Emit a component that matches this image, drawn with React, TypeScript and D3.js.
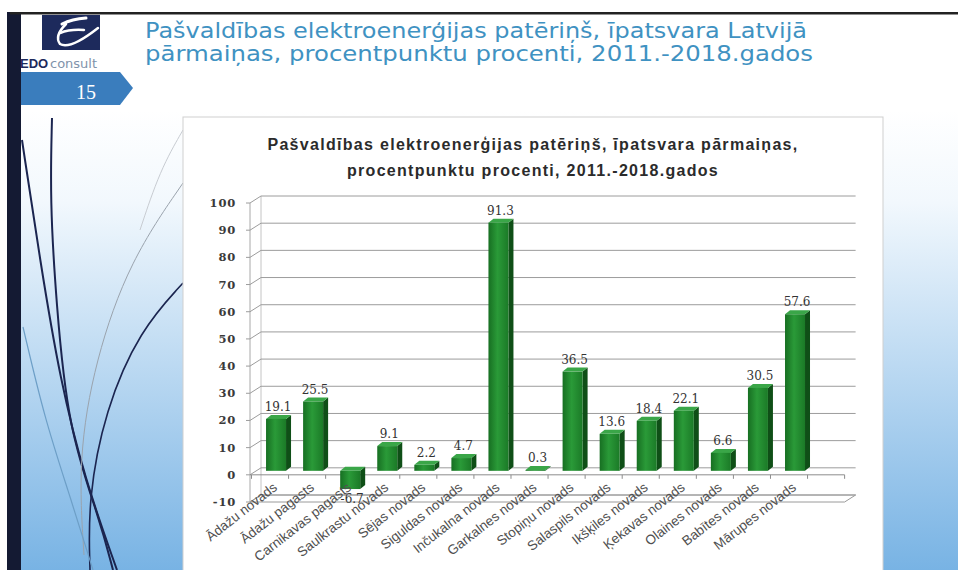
import React from "react";
import * as d3 from "d3";

const categories = [
  "Ādažu novads",
  "Ādažu pagasts",
  "Carnikavas pagasts",
  "Saulkrastu novads",
  "Sējas novads",
  "Siguldas novads",
  "Inčukalna novads",
  "Garkalnes novads",
  "Stopiņu novads",
  "Salaspils novads",
  "Ikšķiles novads",
  "Ķekavas novads",
  "Olaines novads",
  "Babītes novads",
  "Mārupes novads",
];
const values = [19.1, 25.5, -6.7, 9.1, 2.2, 4.7, 91.3, 0.3, 36.5, 13.6, 18.4, 22.1, 6.6, 30.5, 57.6];
const yTicks = [-10, 0, 10, 20, 30, 40, 50, 60, 70, 80, 90, 100];

const slideTitle1 = "Pašvaldības elektroenerģijas patēriņš, īpatsvara Latvijā";
const slideTitle2 = "pārmaiņas, procentpunktu procenti, 2011.-2018.gados";
const chartTitle1 = "Pašvaldības elektroenerģijas patēriņš, īpatsvara pārmaiņas,";
const chartTitle2 = "procentpunktu procenti, 2011.-2018.gados";
const slideNumber = "15";

export default function App() {
  const W = 958;
  const H = 570;
  const step = 37.07;
  const x0 = 251.5;
  const x = d3
    .scaleBand<string>()
    .domain(categories)
    .range([x0, x0 + categories.length * step])
    .padding(0);
  const y = d3.scaleLinear().domain([-10, 100]).range([502, 203]);

  // 3D offsets
  const backDx = 11, backDy = -7; // wall depth
  const barDx = 6, barDy = -4; // bar placement (mid-depth)
  const sideDx = 5, sideDy = -4; // bar depth
  const barW = 20;

  const floorEnd = x0 + (categories.length + 1) * step;
  const leftX = 250;
  const yMin = y(-10);
  const yMax = y(100);

  const curve = d3.line<[number, number]>().curve(d3.curveBasis);

  return (
    <svg
      width={W}
      height={H}
      style={{ position: "absolute", left: 0, top: 0, background: "#fff" }}
      fontFamily="Liberation Sans, Arial, sans-serif"
    >
      <defs>
        <linearGradient id="bg" x1="0" y1="0" x2="0" y2="1">
          <stop offset="0" stopColor="#ffffff" />
          <stop offset="0.2" stopColor="#f2f8fd" />
          <stop offset="1" stopColor="#78b3e4" />
        </linearGradient>
        <linearGradient id="barFront" x1="0" y1="0" x2="1" y2="0">
          <stop offset="0" stopColor="#176f22" />
          <stop offset="0.45" stopColor="#2a9a38" />
          <stop offset="1" stopColor="#1b7a27" />
        </linearGradient>
      </defs>

      {/* slide background */}
      <rect x={0} y={0} width={W} height={H} fill="#fff" />
      <rect x={20} y={110} width={W - 20} height={H - 110} fill="url(#bg)" />

      {/* decorative curves */}
      <g fill="none">
        <path d={curve([[22, 140], [40, 260], [60, 380], [85, 480], [117, 570]]) || ""} stroke="#1b2550" strokeWidth={2} />
        <path d={curve([[52, 118], [50, 200], [56, 300], [68, 430], [100, 520], [113, 570]]) || ""} stroke="#1b2550" strokeWidth={2} />
        <path d={curve([[183, 283], [140, 330], [105, 410], [88, 500], [90, 570]]) || ""} stroke="#1b2550" strokeWidth={1.6} />
        <path d={curve([[183, 183], [130, 260], [95, 360], [78, 460], [84, 555]]) || ""} stroke="#9aa3ad" strokeWidth={1} />
        <path d={curve([[23, 327], [45, 420], [68, 490], [93, 570]]) || ""} stroke="#6d9fc7" strokeWidth={1.2} />
        <path d={curve([[183, 130], [160, 170], [140, 230]]) || ""} stroke="#c8ccd2" strokeWidth={1} />
      </g>

      {/* left dark bar and top rule */}
      <rect x={7} y={12} width={14} height={H - 12} fill="#141a33" />
      <rect x={10} y={12} width={W - 10} height={2.5} fill="#222" />

      {/* logo */}
      <rect x={42} y={15} width={58} height={35} fill="#1d2a5c" />
      <g fill="none" stroke="#ffffff" strokeLinecap="round">
        <path d="M62 24 Q72 19 86 18" strokeWidth={3} />
        <path d="M60 33 Q70 29 84 30" strokeWidth={2.5} />
        <path d="M66 24 Q54 36 60 44 Q70 50 98 28" strokeWidth={2.5} />
      </g>
      <text x={20} y={68} fontSize={13} fontWeight="bold" fill="#1d2a5c" fontFamily="Liberation Sans, Arial, sans-serif">EDO</text>
      <text x={50} y={68} fontSize={13} fill="#7f93ab" fontFamily="DejaVu Sans, sans-serif">consult</text>
      <path d="M21 72 L120 72 L133 88 L120 105 L21 105 Z" fill="#3a7dbd" />
      <text x={86} y={99} fontSize={20} fill="#ffffff" textAnchor="middle" fontFamily="Liberation Serif, serif">{slideNumber}</text>

      {/* slide title */}
      <text x={145} y={38} fontSize={22} fill="#3f92c2" fontFamily="DejaVu Sans, sans-serif" textLength={662} lengthAdjust="spacingAndGlyphs">{slideTitle1}</text>
      <text x={145} y={61} fontSize={22} fill="#3f92c2" fontFamily="DejaVu Sans, sans-serif" textLength={668} lengthAdjust="spacingAndGlyphs">{slideTitle2}</text>

      {/* chart area */}
      <rect x={183} y={117} width={700} height={H - 117 + 5} fill="#ffffff" stroke="#cfcfcf" strokeWidth={1} />

      <text x={533} y={150} fontSize={16} fontWeight="bold" fill="#2b2b2b" textAnchor="middle" letterSpacing={1.3}>{chartTitle1}</text>
      <text x={533} y={176} fontSize={16} fontWeight="bold" fill="#2b2b2b" textAnchor="middle" letterSpacing={1.3}>{chartTitle2}</text>

      {/* floor at -10 */}
      <path
        d={`M${leftX},${yMin} L${floorEnd},${yMin} L${floorEnd + backDx},${yMin + backDy} L${leftX + backDx},${yMin + backDy} Z`}
        fill="#ffffff"
        stroke="#9a9a9a"
        strokeWidth={1}
      />

      {/* walls */}
      <line x1={leftX} y1={yMin} x2={leftX} y2={yMax} stroke="#a8a8a8" />
      <line x1={leftX + backDx} y1={yMin + backDy} x2={leftX + backDx} y2={yMax + backDy} stroke="#c4c4c4" />

      {/* gridlines */}
      {yTicks.map((t) => (
        <g key={t} stroke="#9c9c9c" strokeWidth={1}>
          <line x1={leftX} y1={y(t)} x2={leftX + backDx} y2={y(t) + backDy} />
          <line x1={leftX + backDx} y1={y(t) + backDy} x2={floorEnd + backDx} y2={y(t) + backDy} />
          <line x1={leftX - 4} y1={y(t)} x2={leftX} y2={y(t)} />
        </g>
      ))}

      {/* category axis at 0 */}
      <line x1={leftX} y1={y(0)} x2={floorEnd} y2={y(0)} stroke="#8c8c8c" />
      {d3.range(categories.length + 2).map((i) => (
        <line key={i} x1={x0 + i * step} y1={y(0)} x2={x0 + i * step} y2={y(0) + 4} stroke="#8c8c8c" />
      ))}

      {/* y labels */}
      {yTicks.map((t) => (
        <text
          key={t}
          x={236}
          y={y(t) + 4}
          fontSize={11.5}
          fontWeight="bold"
          fill="#3a3a3a"
          textAnchor="end"
          letterSpacing={0.8}
          fontFamily="DejaVu Serif, serif"
        >
          {t}
        </text>
      ))}

      {/* bars */}
      {categories.map((c, i) => {
        const v = values[i];
        const cx = (x(c) as number) + x.bandwidth() / 2 + barDx;
        const xl = cx - barW / 2;
        const xr = cx + barW / 2;
        const yv = y(v) + barDy;
        const y0 = y(0) + barDy;
        const yt = Math.min(yv, y0);
        const yb = Math.max(yv, y0);
        return (
          <g key={c}>
            <path d={`M${xr},${yb} L${xr + sideDx},${yb + sideDy} L${xr + sideDx},${yt + sideDy} L${xr},${yt} Z`} fill="#0f4f17" />
            <path d={`M${xl},${yt} L${xl + sideDx},${yt + sideDy} L${xr + sideDx},${yt + sideDy} L${xr},${yt} Z`} fill="#3aa648" />
            <rect x={xl} y={yt} width={barW} height={Math.max(yb - yt, 0.5)} fill="url(#barFront)" />
          </g>
        );
      })}

      {/* value labels */}
      {categories.map((c, i) => {
        const v = values[i];
        const cx = (x(c) as number) + x.bandwidth() / 2 + barDx + 2;
        const ly = v >= 0 ? y(v) + barDy - 8 : y(v) + barDy + 14;
        return (
          <text key={c} x={cx} y={ly} fontSize={12} fill="#333" textAnchor="middle" fontFamily="DejaVu Serif, serif">
            {v.toFixed(1)}
          </text>
        );
      })}

      {/* category labels */}
      {categories.map((c) => {
        const ax = (x(c) as number) + x.bandwidth() / 2 + 8;
        const ay = 489;
        return (
          <text
            key={c}
            x={ax}
            y={ay}
            fontSize={13.5}
            fill="#505050"
            textAnchor="end"
            transform={`rotate(-38 ${ax} ${ay})`}
          >
            {c}
          </text>
        );
      })}
    </svg>
  );
}
